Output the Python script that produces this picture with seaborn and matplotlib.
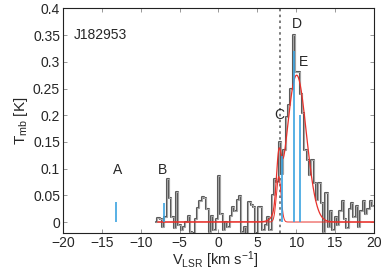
import numpy as np
import pandas as pd
import matplotlib
matplotlib.use("Agg")
import matplotlib.pyplot as plt
import matplotlib.patheffects as pe
import seaborn as sns

# observed spectrum, channels of 0.3 km/s starting at -8 km/s
v_start = -8.0
dv = 0.3
tmb = [0.0, 0.008, 0.005, -0.01, 0.01, 0.08, 0.045, 0.01, -0.012, 0.056,
       -0.005, -0.015, -0.01, 0.0, 0.012, -0.018, -0.02, 0.005, 0.027, 0.04,
       0.047, 0.045, 0.025, -0.018, 0.012, -0.015, 0.005, 0.087, 0.015, -0.015,
       0.0, -0.01, 0.012, 0.028, 0.02, 0.042, 0.048, -0.018, -0.01, -0.02,
       0.038, 0.032, 0.028, -0.02, 0.028, 0.028, -0.015, -0.005, 0.01, -0.015,
       0.05, 0.08, 0.075, 0.15, 0.09, 0.135, 0.197, 0.22, 0.25, 0.35,
       0.28, 0.28, 0.24, 0.205, 0.135, 0.117, 0.088, 0.117, 0.073, 0.041,
       0.073, 0.035, -0.018, 0.054, -0.01, 0.02, -0.015, 0.01, -0.005, 0.02,
       0.04, 0.005, -0.012, 0.025, 0.035, 0.01, 0.03, -0.01, 0.02, 0.04,
       0.015, 0.025, 0.04, 0.03]
velocity = v_start + dv * np.arange(len(tmb))

# gaussian fit components (centre, amplitude, sigma)
fit_centres = [10.05, 7.75]
fit_amps = [0.275, 0.085]
fit_sigmas = [1.25, 0.3]

# hyperfine components
hf_labels = ["A", "B", "C", "D", "E"]
hf_vel = [-13.2, -7.0, 8.15, 9.74, 10.47]
hf_height = [0.038, 0.035, 0.123, 0.32, 0.2]
lab_x = [-12.9, -7.15, 7.8, 10.1, 10.9]
lab_y = [0.098, 0.098, 0.2, 0.37, 0.3]

sns.set_style("ticks")
plt.rcParams['font.family'] = ['Liberation Sans', 'DejaVu Sans']
plt.rcParams['mathtext.fontset'] = 'custom'
plt.rcParams['mathtext.rm'] = 'Liberation Sans'
plt.rcParams['mathtext.it'] = 'Liberation Sans:italic'

fig = plt.figure(figsize=(3.88, 2.71), dpi=100)
ax = fig.add_axes([0.162, 0.140, 0.802, 0.829])

spec = pd.DataFrame({"v": velocity, "T": tmb})
sns.lineplot(data=spec, x="v", y="T", ax=ax, drawstyle="steps-mid",
             estimator=None, color="#c4c4c4", lw=0.5,
             path_effects=[pe.Stroke(linewidth=1.5, foreground="#5a5a5a"), pe.Normal()])

# fit
vfit = np.linspace(-7.8, 20, 800)
model = np.zeros_like(vfit)
for c, a, s in zip(fit_centres, fit_amps, fit_sigmas):
    model += a * np.exp(-0.5 * ((vfit - c) / s) ** 2)
sns.lineplot(x=vfit, y=model, ax=ax, color="#e8302a", lw=0.9, estimator=None)
narrow = fit_amps[1] * np.exp(-0.5 * ((vfit - fit_centres[1]) / fit_sigmas[1]) ** 2)
sns.lineplot(x=vfit, y=narrow, ax=ax, color="#e8302a", lw=0.7, estimator=None)

ax.vlines(hf_vel, 0, hf_height, color="#3ba3e0", lw=1.2, zorder=4)
for lab, x, y in zip(hf_labels, lab_x, lab_y):
    ax.text(x, y, lab, ha="center", va="center", fontsize=10)
ax.text(-15.2, 0.35, "J182953", ha="center", va="center", fontsize=10)

ax.axvline(7.9, color="#666666", ls=(0, (1.5, 2)), lw=1.2, zorder=1)

ax.set_xlim(-20, 20)
ax.set_ylim(-0.0207, 0.4)
ax.set_xticks(range(-20, 21, 5))
ax.set_yticks([0, 0.05, 0.1, 0.15, 0.2, 0.25, 0.3, 0.35, 0.4])
ax.set_yticklabels(["0", "0.05", "0.1", "0.15", "0.2", "0.25", "0.3", "0.35", "0.4"])
ax.tick_params(direction="in", length=3, width=0.6, top=True, right=True,
               labelsize=10, pad=2, color="#888888")
for sp in ax.spines.values():
    sp.set_linewidth(0.8)
    sp.set_color("#222222")
ax.set_xlabel(r"V$_{\rm LSR}$ [km s$^{-1}$]", fontsize=10.5)
ax.set_ylabel(r"T$_{\rm mb}$ [K]", fontsize=11, labelpad=2)
ax.xaxis.set_label_coords(0.49, -0.072)

fig.savefig("out.png", dpi=100)
